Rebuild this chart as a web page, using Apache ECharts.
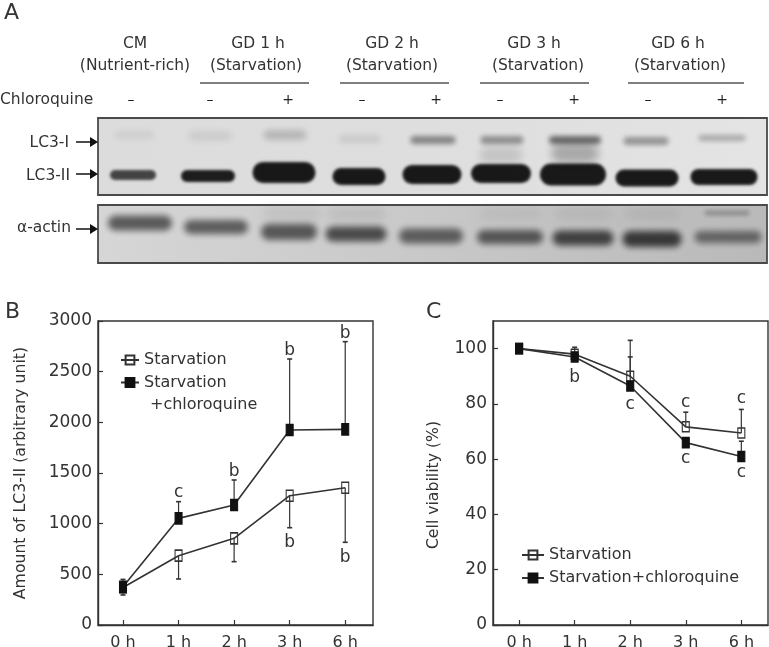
<!DOCTYPE html>
<html><head><meta charset="utf-8">
<style>html,body{margin:0;padding:0;background:#fff}#c{width:769px;height:647px;filter:blur(0.45px)}</style>
<script src="https://cdn.jsdelivr.net/npm/echarts@6/dist/echarts.min.js"></script>
</head><body><div id="c"></div>
<script>
const FONT='"DejaVu Sans"', INK='#333';
const hours=['0 h','1 h','2 h','3 h','6 h'];
const idx=[0,1,2,3,4];
// Panel B
const bStarv=[370,684,855,1276,1355];
const bChlor=[378,1052,1184,1924,1931];
const bStarvErr=[296,454,625,960,816];
const bChlorErr=[450,1217,1431,2625,2796];
const bLetters=[[1,1322,'c'],[2,1536,'b'],[3,2730,'b'],[4,2895,'b'],[3,832,'b'],[4,684,'b']];
const bTicks=[0,500,1000,1500,2000,2500,3000];
// Panel C
const cStarv=[100,98,90,71.7,69.5];
const cChlor=[100,97,86.5,66,61];
const cStarvErr=[100,100.5,103,77,78];
const cChlorErr=[100,97,97,66,66.5];
const cLetters=[[1,90,'b'],[2,80,'c'],[3,80.7,'c'],[4,82.3,'c'],[3,60.5,'c'],[4,55.4,'c']];
const cTicks=[0,20,40,60,80,100];
// Panel A: blot bands [lane centre x, y, width, height, darkness, softness]
const lc3II=[[133,175,48,12,.72,3],[208,176,56,14,.9,3],[284,172.5,65,23,.92,3],[359,176.5,55,19,.92,3],[432,174.5,61,21,.92,3],[501,173.5,62,21,.92,3],[573,174.5,68,24,.92,3],[647,178,65,19,.92,3],[724,177,69,18,.92,3]];
const lc3I=[[134,135,42,10,.07,6],[210,136,46,12,.08,6],[285,135,45,12,.18,6],[360,139,44,9,.11,6],[433,140,47,10,.42,5],[502,140,45,10,.38,5],[575,140,54,10,.55,5],[646,141,47,10,.36,5],[722,138,49,8,.27,5]];
const actin=[[140,223,66,17,.6,6],[216,227,66,16,.58,6],[289,232,58,18,.6,6],[356,234,63,17,.66,6],[431,236,66,17,.56,6],[510,237,68,16,.6,6],[583,238,63,17,.7,6],[652,239,61,18,.74,6],[728,237,69,14,.5,6]];
const haze=[[501,155,45,18,.13,9],[575,153,50,22,.26,9],[292,214,60,16,.06,10],[357,214,60,16,.07,10],[510,214,64,14,.05,10],[583,214,60,14,.06,10],[652,214,58,14,.06,10],[727,213,47,7,.26,4]];
const gels=[[98,118,669,77,0],[98,205,669,58,1]];
const gelFills=[['#dcdcdc','#dedede','#e4e4e4'],['#d6d6d6','#c8c8c8','#b9b9b9']];
const columnHeads=[[135,44,'CM'],[135,66,'(Nutrient-rich)'],[258,44,'GD 1 h'],[256,66,'(Starvation)'],[392,44,'GD 2 h'],[392,66,'(Starvation)'],[534,44,'GD 3 h'],[538,66,'(Starvation)'],[678,44,'GD 6 h'],[680,66,'(Starvation)']];
const underlines=[[200,309],[340,449],[480,589],[628,744]];
const signs=[[131,'–'],[210,'–'],[288,'+'],[362,'–'],[436,'+'],[500,'–'],[574,'+'],[648,'–'],[722,'+']];
const blotLabels=[['LC3-I',69,143,142],['LC3-II',70,176,174],['α-actin',71,228,229]];
const panels=[['A',4,13],['B',5,312],['C',426,312]];

function errorSeries(name,x,y,means,bounds){
  return {type:'custom',name,xAxisIndex:x,yAxisIndex:y,silent:true,z:3,
    data:idx.map(i=>[i,means[i],bounds[i]]),
    renderItem(p,api){
      const a=api.coord([api.value(0),api.value(1)]),b=api.coord([api.value(0),api.value(2)]);
      return {type:'group',children:[
        {type:'line',shape:{x1:a[0],y1:a[1],x2:b[0],y2:b[1]},style:{stroke:INK,lineWidth:1.2}},
        {type:'line',shape:{x1:b[0]-2.5,y1:b[1],x2:b[0]+2.5,y2:b[1]},style:{stroke:INK,lineWidth:1.6}}]};
    }};
}
function lineSeries(name,x,y,vals,filled,size){
  return {type:'line',name,xAxisIndex:x,yAxisIndex:y,data:idx.map(i=>[i,vals[i]]),symbol:'rect',symbolSize:size,
    showAllSymbol:true,z:5,
    lineStyle:{color:INK,width:1.6},
    itemStyle:{color:filled?'#111':'transparent',borderColor:filled?'#111':INK,borderWidth:1.3,opacity:1}};
}
function letterSeries(x,y,rows,dy){
  return {type:'scatter',xAxisIndex:x,yAxisIndex:y,symbolSize:0,silent:true,z:6,data:rows,itemStyle:{opacity:1},
    label:{show:true,position:'inside',offset:[0,dy],formatter:p=>p.data[2],color:INK,opacity:1,fontFamily:FONT,fontSize:17}};
}
function bandSeries(name,rows){
  return {type:'custom',name,xAxisIndex:2,yAxisIndex:2,silent:true,z:1,clip:false,data:rows,
    renderItem(p,api){
      const w=api.value(2)-2,h=Math.max(2,api.value(3)-2),c=api.coord([api.value(0),api.value(1)]),OFF=3000;
      return {type:'rect',shape:{x:c[0]-w/2-OFF,y:c[1]-h/2,width:w,height:h,r:h/2},
        style:{fill:'#000',shadowBlur:api.value(5),shadowOffsetX:OFF,shadowColor:'rgba(8,8,8,'+api.value(4)+')'}};
    }};
}
function t(x,y,text,o){return {type:'text',x,y,z:20,style:Object.assign({text,fontFamily:FONT,fontSize:15.5,fill:INK,align:'center',verticalAlign:'middle'},o||{})};}
const graphics=[];
columnHeads.forEach(r=>graphics.push(t(r[0],r[1],r[2])));
underlines.forEach(r=>graphics.push({type:'line',z:20,shape:{x1:r[0],y1:83,x2:r[1],y2:83},style:{stroke:'#555',lineWidth:1.5}}));
graphics.push(t(0,100,'Chloroquine',{align:'left'}));
signs.forEach(r=>graphics.push(t(r[0],100,r[1],{fontSize:14,fill:'#222'})));
blotLabels.forEach(r=>{
  graphics.push(t(r[1],r[2],r[0],{align:'right'}));
  graphics.push({type:'line',z:20,shape:{x1:76,y1:r[3],x2:92,y2:r[3]},style:{stroke:'#111',lineWidth:1.5}});
  graphics.push({type:'polygon',z:20,shape:{points:[[90,r[3]-5],[98,r[3]],[90,r[3]+5]]},style:{fill:'#111'}});
});
panels.forEach(r=>graphics.push(t(r[1],r[2],r[0],{fontSize:22,align:'left'})));
graphics.push(t(150,405,'+chloroquine',{fontSize:16,align:'left'}));

const axisLine={show:true,onZero:false,lineStyle:{color:INK,width:1.4}};
function xAxis(i,min,max){
  return {type:'value',gridIndex:i,min,max,axisLine,
    axisTick:{show:true,inside:true,length:5,customValues:idx,lineStyle:{color:INK,width:1.2}},
    axisLabel:{customValues:idx,formatter:v=>hours[v],color:INK,fontFamily:FONT,fontSize:16,margin:10},
    splitLine:{show:false}};
}
function yAxis(i,max,ticks,name,nameGap,pad){
  return {type:'value',gridIndex:i,min:0,max,name,nameLocation:'middle',nameGap,
    nameTextStyle:{color:INK,fontFamily:FONT,fontSize:15.7,padding:pad||0},
    axisLine,
    axisTick:{show:true,inside:true,length:5,customValues:ticks,lineStyle:{color:INK,width:1.2}},
    axisLabel:{customValues:ticks,formatter:v=>String(v),color:INK,fontFamily:FONT,fontSize:17,margin:6},
    splitLine:{show:false}};
}
const SB='Starvation',SC='Starvation+chloroquine';
function gelRect(fillFn,z){
  return {type:'custom',xAxisIndex:2,yAxisIndex:2,silent:true,z,clip:false,data:gels,
    renderItem(p,api){
      const a=api.coord([api.value(0),api.value(1)]),b=api.coord([api.value(0)+api.value(2),api.value(1)+api.value(3)]);
      return {type:'rect',shape:{x:a[0],y:a[1],width:b[0]-a[0],height:b[1]-a[1]},style:fillFn(api.value(4))};
    }};
}
const gelSeries=gelRect(i=>({fill:new echarts.graphic.LinearGradient(0,0,1,0,gelFills[i].map((c,k)=>({offset:k/2,color:c})))}),0);
const gelFrames=gelRect(()=>({fill:'none',stroke:'#4a4a4a',lineWidth:1.8}),2);
const chart=echarts.init(document.getElementById('c'),null,{renderer:'canvas'});
chart.setOption({
  animation:false,backgroundColor:'#fff',
  grid:[
    {left:98,top:321,width:275,height:304,outerBoundsMode:'none',show:true,borderColor:INK,borderWidth:1.4,backgroundColor:'transparent'},
    {left:493,top:321,width:275,height:304,outerBoundsMode:'none',show:true,borderColor:INK,borderWidth:1.4,backgroundColor:'transparent'},
    {left:0,top:0,width:769,height:647,outerBoundsMode:'none',show:false}
  ],
  xAxis:[xAxis(0,-0.45,4.5),xAxis(1,-0.47,4.48),{type:'value',gridIndex:2,min:0,max:769,show:false}],
  yAxis:[yAxis(0,3000,bTicks,'Amount of LC3-II (arbitrary unit)',69),yAxis(1,110,cTicks,'Cell viability (%)',51,[0,24,0,0]),{type:'value',gridIndex:2,min:0,max:647,inverse:true,show:false}],
  legend:[
    {left:120,top:351,padding:0,orient:'vertical',data:[SB,SC],itemWidth:18,itemHeight:11,itemGap:4.5,selectedMode:false,
     formatter:n=>n===SC?'Starvation':n,
     textStyle:{color:INK,fontFamily:FONT,fontSize:16,lineHeight:18}},
    {left:521,top:546,padding:0,orient:'vertical',data:[SB,SC],itemWidth:22,itemHeight:11,itemGap:5,selectedMode:false,
     textStyle:{color:INK,fontFamily:FONT,fontSize:16,lineHeight:18}}
  ],
  graphic:graphics,
  series:[
    gelSeries,bandSeries('haze',haze),bandSeries('LC3-II',lc3II),bandSeries('LC3-I',lc3I),bandSeries('actin',actin),gelFrames,
    errorSeries('eb1',0,0,bStarv,bStarvErr),errorSeries('eb2',0,0,bChlor,bChlorErr),
    lineSeries(SB,0,0,bStarv,false,[7,11]),lineSeries(SC,0,0,bChlor,true,[7,11]),letterSeries(0,0,bLetters,2),
    errorSeries('ec1',1,1,cStarv,cStarvErr),errorSeries('ec2',1,1,cChlor,cChlorErr),
    lineSeries(SB,1,1,cStarv,false,[7,10]),lineSeries(SC,1,1,cChlor,true,[7,10]),letterSeries(1,1,cLetters,1)
  ]
});
</script></body></html>
